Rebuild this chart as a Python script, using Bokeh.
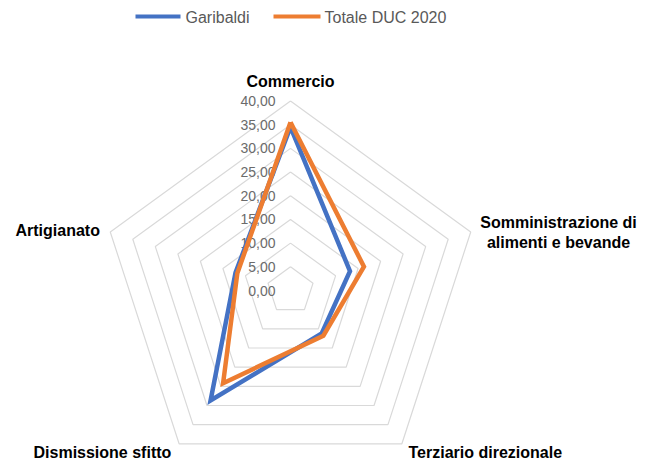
import numpy as np
from bokeh.plotting import figure
from bokeh.models import Range1d
from bokeh.core.properties import value
from bokeh.embed import file_html
from bokeh.resources import INLINE

# ---- data ----
categories = ["Commercio", "Somministrazione di\nalimenti e bevande",
              "Terziario direzionale", "Dismissione sfitto", "Artigianato"]
garibaldi = [34.5, 13.2, 11.2, 28.7, 12.2]
totale_duc = [35.5, 16.3, 11.8, 24.2, 11.8]
series_names = ["Garibaldi", "Totale DUC 2020"]
series_colors = ["#4472C4", "#ED7D31"]
ticks = [0, 5, 10, 15, 20, 25, 30, 35, 40]
tick_labels = ["0,00", "5,00", "10,00", "15,00", "20,00", "25,00", "30,00", "35,00", "40,00"]

# ---- layout ----
W, H = 655, 463
OFF = 0              # page position of figure's top-left corner
PX = 4.7375          # pixels per value unit
CXP, CYP = 290, 290  # page position of radar centre


def d(xp, yp):
    """page pixel -> data coords"""
    return (xp - CXP) / PX, (CYP - yp) / PX


x0, y1 = d(OFF, OFF)
x1, y0 = d(OFF + W, OFF + H)

p = figure(width=W, height=H, output_backend="svg", toolbar_location=None,
           x_range=Range1d(x0, x1), y_range=Range1d(y0, y1),
           min_border=0, outline_line_color=None)
p.axis.visible = False
p.grid.visible = False
p.background_fill_color = "white"
p.border_fill_color = "white"

n = len(categories)
angles = np.deg2rad(90 - 72 * np.arange(n))


def poly(vals):
    v = np.asarray(vals, dtype=float)
    xs = v * np.cos(angles)
    ys = v * np.sin(angles)
    return list(xs) + [xs[0]], list(ys) + [ys[0]]


# grid pentagons
for t in ticks[1:]:
    gx, gy = poly([t] * n)
    p.line(gx, gy, line_color="#d9d9d9", line_width=1.2)

# tick labels
lx, _ = d(CXP - 15, 0)
p.text(x=[lx] * len(ticks), y=ticks, text=tick_labels,
       text_align="right", text_baseline="middle",
       text_font=value("Liberation Sans"), text_font_size="14px",
       text_color="#6b6b6b")

# series
for vals, col in [(garibaldi, series_colors[0]), (totale_duc, series_colors[1])]:
    sx, sy = poly(vals)
    p.line(sx, sy, line_color=col, line_width=4.5, line_join="miter")

# category labels
label_pos = [(290, 81, "center"), (558, 232, "center"), (408, 452, "left"),
             (33, 452, "left"), (15, 230, "left")]
for cat, (xp, yp, al) in zip(categories, label_pos):
    tx, ty = d(xp, yp)
    p.text(x=[tx], y=[ty], text=[cat], text_align=al, text_baseline="middle",
           text_font=value("Liberation Sans"), text_font_size="16px",
           text_font_style="bold", text_color="#000000", text_line_height=1.2)

# legend
leg = [(135, 180, 185), (273, 320, 324)]
for (a, b, tx_), name, col in zip(leg, series_names, series_colors):
    ax_, ay_ = d(a, 16)
    bx_, _ = d(b, 16)
    p.line([ax_, bx_], [ay_, ay_], line_color=col, line_width=4)
    tx, ty = d(tx_, 17)
    p.text(x=[tx], y=[ty], text=[name], text_align="left", text_baseline="middle",
           text_font=value("Liberation Sans"), text_font_size="16px",
           text_color="#595959")

open("out.html", "w").write(file_html(p, INLINE))
